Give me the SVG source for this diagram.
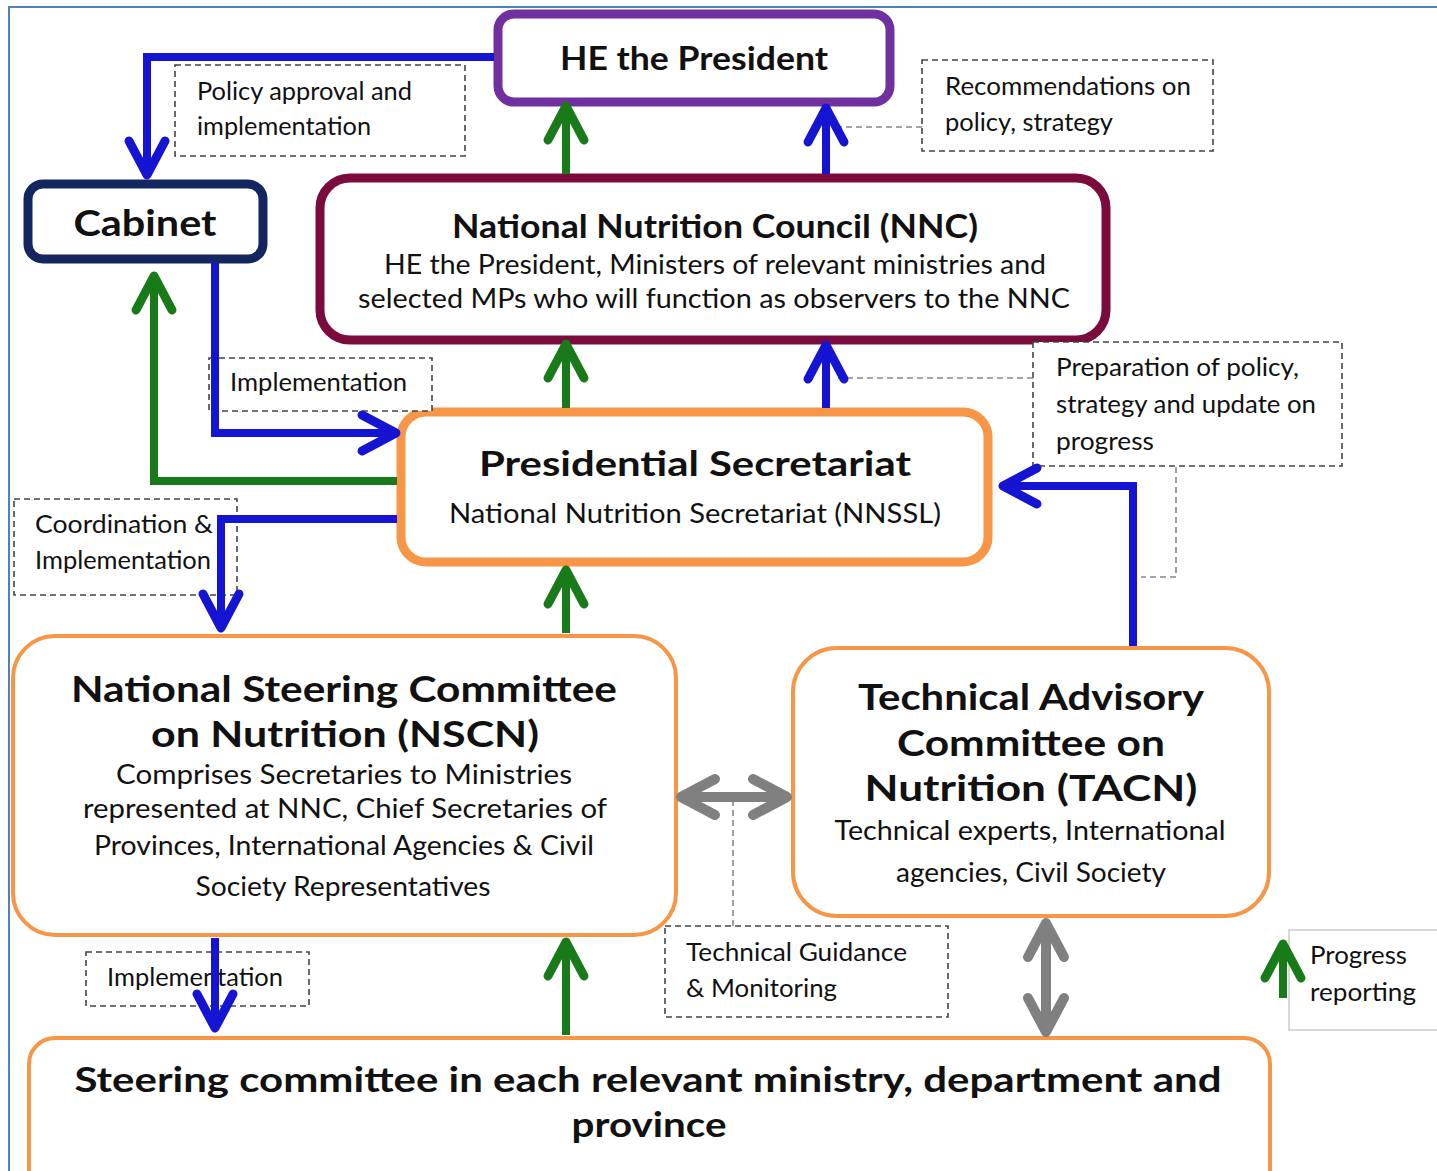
<svg xmlns="http://www.w3.org/2000/svg" width="1437" height="1171" viewBox="0 0 1437 1171">
<defs>
<style>
.t{font-family:Lato,"Open Sans","Liberation Sans",sans-serif;fill:#111}
.b{font-weight:700}
.lab{fill:#fff;stroke:#444;stroke-width:1.6;stroke-dasharray:6 4}
.orange{fill:#fff;stroke:#F79646}
.cb{fill:none;stroke:#1414D2;stroke-width:8}
.cg{fill:none;stroke:#187A18;stroke-width:8}
.cy{fill:none;stroke:#808080;stroke-width:10}
.dash{fill:none;stroke:#888;stroke-width:1.6;stroke-dasharray:6 4}
</style>
<marker id="ab" markerUnits="userSpaceOnUse" orient="auto" refX="0" refY="0" markerWidth="60" markerHeight="60" overflow="visible"><path d="M-34,-18 L0,0 L-34,18" fill="none" stroke="#1414D2" stroke-width="9" stroke-linecap="round" stroke-linejoin="round"/></marker>
<marker id="ag" markerUnits="userSpaceOnUse" orient="auto" refX="0" refY="0" markerWidth="60" markerHeight="60" overflow="visible"><path d="M-34,-18 L0,0 L-34,18" fill="none" stroke="#187A18" stroke-width="9" stroke-linecap="round" stroke-linejoin="round"/></marker>
<marker id="ay" markerUnits="userSpaceOnUse" orient="auto-start-reverse" refX="0" refY="0" markerWidth="60" markerHeight="60" overflow="visible"><path d="M-34,-18 L0,0 L-34,18" fill="none" stroke="#808080" stroke-width="10" stroke-linecap="round" stroke-linejoin="round"/></marker>
</defs>
<rect width="1437" height="1171" fill="#fff"/>
<path d="M9,1171 V7 H1437" fill="none" stroke="#4F81BD" stroke-width="2"/>

<g id="president">
<rect x="498" y="14" width="392" height="88" rx="16" fill="#fff" stroke="#7030A0" stroke-width="9"/>
<text class="t b" x="694" y="70" font-size="32" text-anchor="middle" textLength="268" lengthAdjust="spacingAndGlyphs">HE the President</text>
</g>
<g id="cabinet">
<rect x="28" y="184" width="235" height="75" rx="15" fill="#fff" stroke="#142660" stroke-width="9"/>
<text class="t b" x="145" y="236" font-size="36" text-anchor="middle" textLength="143" lengthAdjust="spacingAndGlyphs">Cabinet</text>
</g>
<g id="nnc">
<rect x="320" y="178" width="786" height="162" rx="30" fill="#fff" stroke="#7B0B3C" stroke-width="9"/>
<text class="t b" x="715" y="238" font-size="32" text-anchor="middle" textLength="526" lengthAdjust="spacingAndGlyphs">National Nutrition Council (NNC)</text>
<text class="t" x="715" y="274" font-size="26" text-anchor="middle" textLength="662" lengthAdjust="spacingAndGlyphs">HE the President, Ministers of relevant ministries and</text>
<text class="t" x="714" y="308" font-size="26" text-anchor="middle" textLength="712" lengthAdjust="spacingAndGlyphs">selected MPs who will function as observers to the NNC</text>
</g>
<g id="secretariat">
<rect x="401" y="412" width="587" height="150" rx="25" fill="#fff" stroke="#F79646" stroke-width="9"/>
<text class="t b" x="695" y="476" font-size="34" text-anchor="middle" textLength="432" lengthAdjust="spacingAndGlyphs">Presidential Secretariat</text>
<text class="t" x="695" y="523" font-size="26" text-anchor="middle" textLength="492" lengthAdjust="spacingAndGlyphs">National Nutrition Secretariat (NNSSL)</text>
</g>
<g id="nscn">
<rect class="orange" x="13" y="636" width="663" height="299" rx="42" stroke-width="4"/>
<text class="t b" x="344" y="702" font-size="36" text-anchor="middle" textLength="546" lengthAdjust="spacingAndGlyphs">National Steering Committee</text>
<text class="t b" x="345" y="747" font-size="36" text-anchor="middle" textLength="388" lengthAdjust="spacingAndGlyphs">on Nutrition (NSCN)</text>
<text class="t" x="344" y="784" font-size="26" text-anchor="middle" textLength="456" lengthAdjust="spacingAndGlyphs">Comprises Secretaries to Ministries</text>
<text class="t" x="345" y="818" font-size="26" text-anchor="middle" textLength="524" lengthAdjust="spacingAndGlyphs">represented at NNC, Chief Secretaries of</text>
<text class="t" x="344" y="855" font-size="26" text-anchor="middle" textLength="500" lengthAdjust="spacingAndGlyphs">Provinces, International Agencies &amp; Civil</text>
<text class="t" x="343" y="896" font-size="26" text-anchor="middle" textLength="295" lengthAdjust="spacingAndGlyphs">Society Representatives</text>
</g>
<g id="tacn">
<rect class="orange" x="793" y="648" width="476" height="268" rx="44" stroke-width="4"/>
<text class="t b" x="1031" y="710" font-size="36" text-anchor="middle" textLength="346" lengthAdjust="spacingAndGlyphs">Technical Advisory</text>
<text class="t b" x="1031" y="756" font-size="36" text-anchor="middle" textLength="268" lengthAdjust="spacingAndGlyphs">Committee on</text>
<text class="t b" x="1031" y="801" font-size="36" text-anchor="middle" textLength="333" lengthAdjust="spacingAndGlyphs">Nutrition (TACN)</text>
<text class="t" x="1030" y="840" font-size="26" text-anchor="middle" textLength="391" lengthAdjust="spacingAndGlyphs">Technical experts, International</text>
<text class="t" x="1031" y="882" font-size="26" text-anchor="middle" textLength="270" lengthAdjust="spacingAndGlyphs">agencies, Civil Society</text>
</g>
<g id="steering">
<rect class="orange" x="29" y="1038" width="1241" height="160" rx="26" stroke-width="4"/>
<text class="t b" x="648" y="1092" font-size="34" text-anchor="middle" textLength="1147" lengthAdjust="spacingAndGlyphs">Steering committee in each relevant ministry, department and</text>
<text class="t b" x="649" y="1137" font-size="34" text-anchor="middle" textLength="155" lengthAdjust="spacingAndGlyphs">province</text>
</g>

<g id="labels">
<g id="lab-policy"><rect class="lab" x="175" y="65" width="290" height="91"/>
<text class="t" x="197" y="100" font-size="25" textLength="215" lengthAdjust="spacingAndGlyphs">Policy approval and</text>
<text class="t" x="197" y="135" font-size="25" textLength="174" lengthAdjust="spacingAndGlyphs">implementation</text></g>
<g id="lab-recom"><rect class="lab" x="922" y="60" width="291" height="91"/>
<text class="t" x="945" y="95" font-size="25" textLength="246" lengthAdjust="spacingAndGlyphs">Recommendations on</text>
<text class="t" x="945" y="131" font-size="25" textLength="168" lengthAdjust="spacingAndGlyphs">policy, strategy</text></g>
<g id="lab-impl1"><rect class="lab" x="209" y="358" width="223" height="53"/>
<text class="t" x="230" y="391" font-size="25" textLength="177" lengthAdjust="spacingAndGlyphs">Implementation</text></g>
<g id="lab-prep"><rect class="lab" x="1033" y="342" width="309" height="124"/>
<text class="t" x="1056" y="376" font-size="25" textLength="243" lengthAdjust="spacingAndGlyphs">Preparation of policy,</text>
<text class="t" x="1056" y="413" font-size="25" textLength="260" lengthAdjust="spacingAndGlyphs">strategy and update on</text>
<text class="t" x="1056" y="450" font-size="25" textLength="98" lengthAdjust="spacingAndGlyphs">progress</text></g>
<g id="lab-coord"><rect class="lab" x="14" y="499" width="223" height="96"/>
<text class="t" x="35" y="533" font-size="25" textLength="178" lengthAdjust="spacingAndGlyphs">Coordination &amp;</text>
<text class="t" x="35" y="569" font-size="25" textLength="176" lengthAdjust="spacingAndGlyphs">Implementation</text></g>
<g id="lab-impl2"><rect class="lab" x="86" y="952" width="223" height="54"/>
<text class="t" x="107" y="986" font-size="25" textLength="176" lengthAdjust="spacingAndGlyphs">Implementation</text></g>
<g id="lab-tech"><rect class="lab" x="665" y="926" width="283" height="91"/>
<text class="t" x="686" y="961" font-size="25" textLength="221" lengthAdjust="spacingAndGlyphs">Technical Guidance</text>
<text class="t" x="686" y="997" font-size="25" textLength="151" lengthAdjust="spacingAndGlyphs">&amp; Monitoring</text></g>
<g id="lab-progress"><rect x="1289" y="930" width="160" height="100" fill="#fff" stroke="#ccc" stroke-width="1.5"/>
<text class="t" x="1310" y="964" font-size="25" textLength="97" lengthAdjust="spacingAndGlyphs">Progress</text>
<text class="t" x="1310" y="1001" font-size="25" textLength="106" lengthAdjust="spacingAndGlyphs">reporting</text></g>
</g>

<g id="connectors">
<path class="dash" d="M922,127 H838"/>
<path class="dash" d="M1033,378 H838"/>
<path class="dash" d="M1176,467 V577 H1141"/>
<path class="dash" d="M733,800 V926"/>
<path class="cb" d="M494,57 H147 V175" marker-end="url(#ab)"/>
<path class="cg" d="M566,174 V106" marker-end="url(#ag)"/>
<path class="cb" d="M826,174 V108" marker-end="url(#ab)"/>
<path class="cg" d="M566,408 V344" marker-end="url(#ag)"/>
<path class="cb" d="M826,408 V345" marker-end="url(#ab)"/>
<path class="cb" d="M215,263 V433 H396" marker-end="url(#ab)"/>
<path class="cg" d="M397,481 H154 V276" marker-end="url(#ag)"/>
<path class="cb" d="M397,519 H221 V628" marker-end="url(#ab)"/>
<path class="cg" d="M566,633 V570" marker-end="url(#ag)"/>
<path class="cb" d="M1133,646 V486 H1003" marker-end="url(#ab)"/>
<path class="cy" d="M681,797 H787" marker-start="url(#ay)" marker-end="url(#ay)"/>
<path class="cy" d="M1046,923 V1032" marker-start="url(#ay)" marker-end="url(#ay)"/>
<path class="cg" d="M566,1035 V942" marker-end="url(#ag)"/>
<path class="cb" d="M215,938 V1028" marker-end="url(#ab)"/>
<path class="cg" d="M1283,998 V944" marker-end="url(#ag)"/>
</g>
</svg>
